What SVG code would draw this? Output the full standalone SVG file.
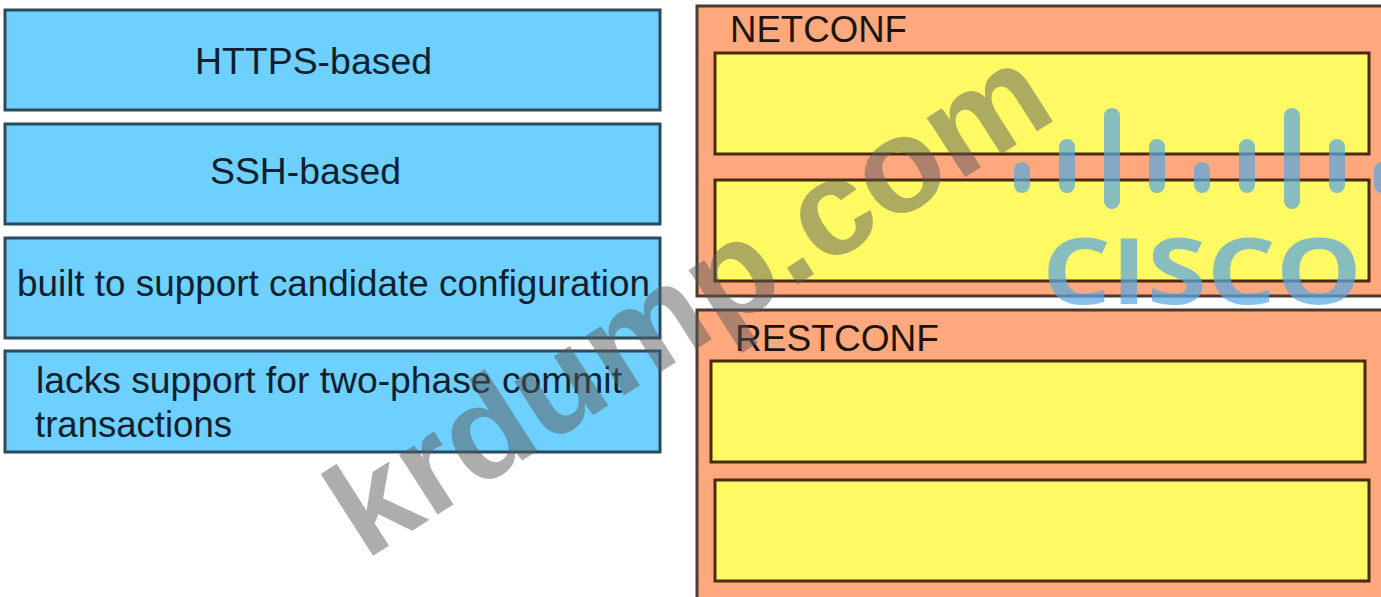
<svg xmlns="http://www.w3.org/2000/svg" width="1381" height="597" viewBox="0 0 1381 597">
<style>
.l{fill:#6dd0ff;stroke:#2b4a5c;stroke-width:3}
.o{fill:#ffa87e;stroke:#4a3a32;stroke-width:3}
.y{fill:#fffa64;stroke:#4a2a0c;stroke-width:3}
text{font-family:"Liberation Sans",Arial,sans-serif;fill:#10202c}
.t{font-size:36px}
.h{font-size:36px;fill:#1c1410}
.bar{stroke:#5aa8e0;stroke-width:16;stroke-linecap:round;fill:none}
</style>
<rect width="1381" height="597" fill="#fff"/>
<g id="https"><rect class="l" x="5" y="10" width="655" height="100"/><text class="t" x="195" y="74" textLength="237" lengthAdjust="spacingAndGlyphs">HTTPS-based</text></g>
<g id="ssh"><rect class="l" x="5" y="124" width="655" height="100"/><text class="t" x="210" y="184" textLength="191" lengthAdjust="spacingAndGlyphs">SSH-based</text></g>
<g id="candidate"><rect class="l" x="5" y="238" width="655" height="100"/><text class="t" x="17" y="296" textLength="633" lengthAdjust="spacingAndGlyphs">built to support candidate configuration</text></g>
<g id="lacks"><rect class="l" x="5" y="351" width="655" height="101"/><text class="t" x="36" y="393" textLength="586" lengthAdjust="spacingAndGlyphs">lacks support for two-phase commit</text><text class="t" x="35" y="437" textLength="197" lengthAdjust="spacingAndGlyphs">transactions</text></g>
<g id="netconf"><rect class="o" x="697" y="6" width="700" height="290"/><text class="h" x="730" y="42" textLength="177" lengthAdjust="spacingAndGlyphs">NETCONF</text><rect class="y" x="715" y="53" width="654" height="101"/><rect class="y" x="715" y="180" width="654" height="101"/></g>
<g id="restconf"><rect class="o" x="697" y="310" width="700" height="300"/><text class="h" x="735" y="351" textLength="204" lengthAdjust="spacingAndGlyphs">RESTCONF</text><rect class="y" x="711" y="361" width="654" height="101"/><rect class="y" x="715" y="480" width="654" height="101"/></g>
<g id="watermark-krdump" opacity="0.49"><text transform="translate(365 561) rotate(-32.6)" font-size="134" font-weight="700" textLength="825" lengthAdjust="spacingAndGlyphs" style="fill:#5a5a5a">krdump.com</text></g>
<g id="watermark-cisco" opacity="0.72">
<path class="bar" d="M1022 170V185M1067 147V185M1112 116V201M1157 147V185M1202 170V185M1247 147V185M1292 116V201M1337 147V185M1382 170V185"/>
<text x="1042" y="304" font-size="92" font-weight="700" textLength="320" lengthAdjust="spacingAndGlyphs" style="fill:#5aa8e0;font-family:'Open Sans',sans-serif">CISCO</text>
</g>
</svg>
